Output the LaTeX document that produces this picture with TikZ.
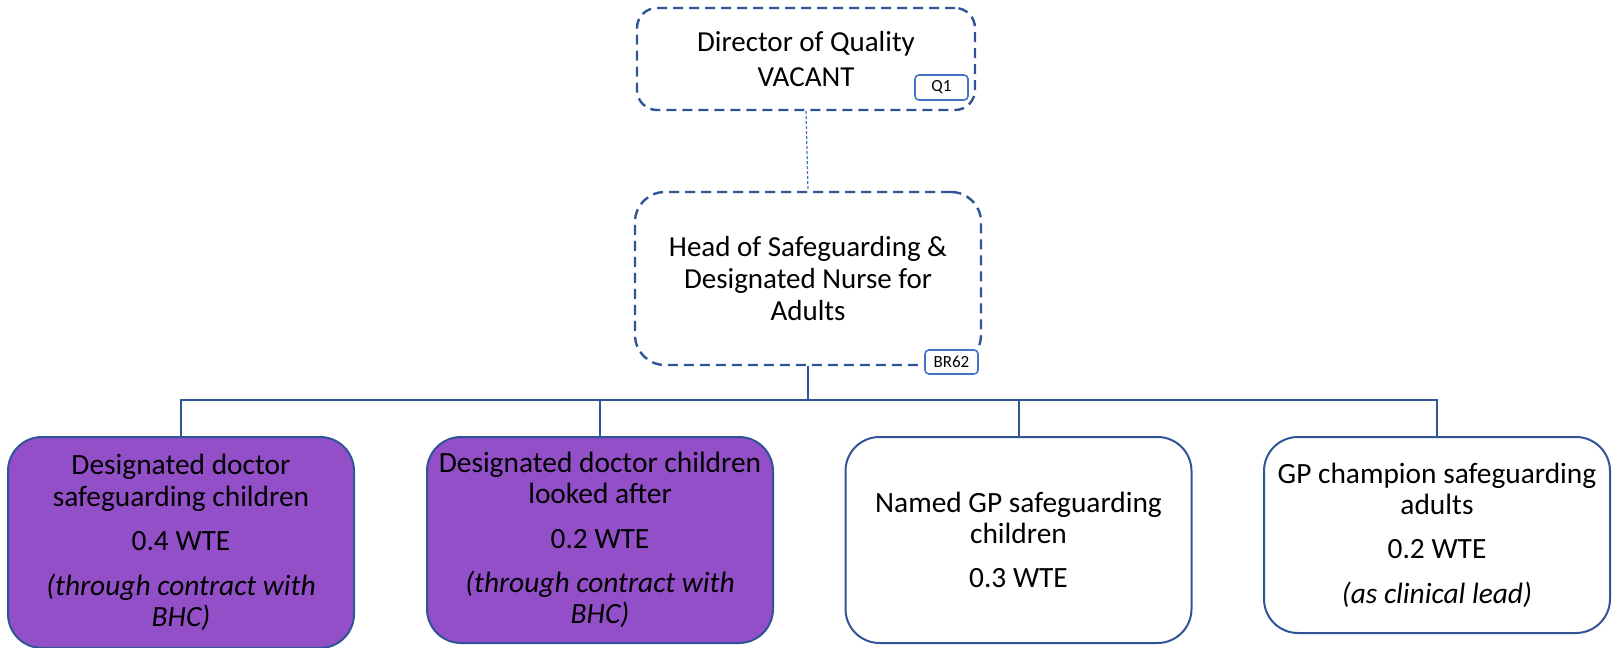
\documentclass[tikz,border=0pt]{standalone}
\usepackage{fontspec}
\setmainfont{Carlito}
\definecolor{edgeblue}{HTML}{2F5597}
\definecolor{tagblue}{HTML}{4472C4}
\definecolor{rolepurple}{HTML}{934FC8}
\begin{document}
\begin{tikzpicture}[x=0.5pt,y=-0.5pt,
    post/.style={draw=edgeblue,line width=1pt,rounded corners=17pt,minimum width=173pt,
      minimum height=103pt,align=center,inner sep=0pt,font=\fontsize{14.7}{15.7}\selectfont},
    vacant/.style={draw=edgeblue,line width=1.2pt,dash pattern=on 5pt off 3pt,align=center,
      inner sep=0pt,font=\fontsize{14.5}{16.2}\selectfont},
    tag/.style={draw=tagblue,line width=0.8pt,fill=white,rounded corners=2pt,minimum width=26.5pt,
      minimum height=12.5pt,inner sep=0pt,font=\fontsize{8.5}{10}\selectfont},
    link/.style={draw=edgeblue,line width=1pt}]
    \useasboundingbox (0,0) rectangle (1614,648);
    % top of the chart
    \node[vacant,rounded corners=10pt,minimum width=169pt,minimum height=51pt] (dir) at (806,59)
      {Director of Quality\\[1.3pt]VACANT};
    \node[vacant,rounded corners=15pt,minimum width=173pt,minimum height=86.5pt] (head) at (808,278.5)
      {Head of Safeguarding \&\\Designated Nurse for\\Adults};
    \node[tag] (q1) at (941.5,87.5) {Q1};
    \node[tag,minimum height=12pt] (br62) at (951.5,362) {BR62};
    \draw[draw=tagblue,line width=0.6pt,dash pattern=on 1.5pt off 1pt] (dir.south) -- (head.north);
    % the four posts
    \node[post,fill=rolepurple,minimum height=105.5pt] (dsc) at (181,542.5)
      {Designated doctor\\safeguarding children\\[6.5pt]0.4 WTE\\[6.5pt]\textit{(through contract with}\\\textit{BHC)}};
    \node[post,fill=rolepurple] (dcla) at (600,540)
      {Designated doctor children\\looked after\\[6.5pt]0.2 WTE\\[6.5pt]\textit{(through contract with}\\\textit{BHC)}};
    \node[post] (gpc) at (1018.5,540)
      {Named GP safeguarding\\children\\[6.5pt]0.3 WTE};
    \node[post,minimum height=98pt] (gpa) at (1437,535)
      {GP champion safeguarding\\adults\\[6.5pt]0.2 WTE\\[6.5pt]\textit{(as clinical lead)}};
    \coordinate (bus) at (808,400);
    \draw[link] (head.south) -- (bus);
    \foreach \p in {dsc,dcla,gpc,gpa}
    \draw[link] (\p.north) |- (bus);
\end{tikzpicture}
\end{document}
